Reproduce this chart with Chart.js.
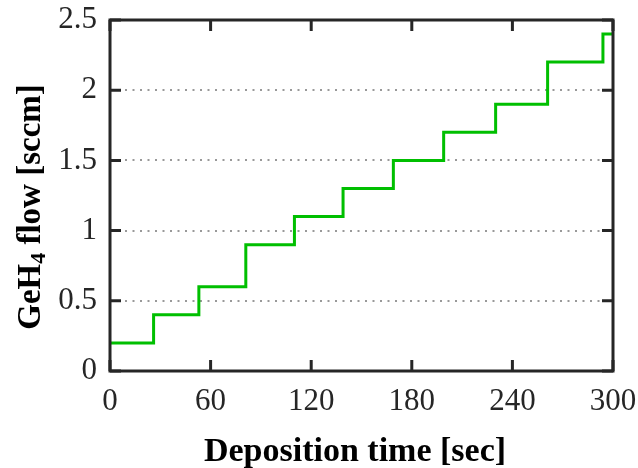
<!DOCTYPE html>
<html>
<head>
<meta charset="utf-8">
<script src="https://cdn.jsdelivr.net/npm/chart.js@4/dist/chart.umd.min.js"></script>
<style>
  html, body { margin: 0; padding: 0; background: #fff; }
  #wrap { width: 638px; height: 468px; }
</style>
</head>
<body>
<div id="wrap"><canvas id="flowChart"></canvas></div>
<script>
// step start times (sec) and GeH4 flow level (sccm) held from that time on
const stepTimes = [0, 26, 53, 81, 110, 139, 169, 199, 230, 261, 294, 300];
const flowLevels = [0.2, 0.4, 0.6, 0.9, 1.1, 1.3, 1.5, 1.7, 1.9, 2.2, 2.4, 2.4];
const xTicks = [0, 60, 120, 180, 240, 300];
const yTicks = [0, 0.5, 1, 1.5, 2, 2.5];
const xTitle = 'Deposition time [sec]';
const yTitleParts = ['GeH', '4', ' flow [sccm]'];

const FONT = '"Liberation Serif", "DejaVu Serif", serif';
const INK = '#262626';

const points = stepTimes.map((t, i) => ({ x: t, y: flowLevels[i] }));

// box round the plot, inward ticks on all sides, axis titles (y one has a subscript)
const framePlugin = {
    id: 'frame',
    afterDatasetsDraw(chart) {
        const { ctx, chartArea: a, scales: { x, y } } = chart;
        ctx.save();
        ctx.strokeStyle = INK;
        ctx.lineWidth = 3;
        ctx.strokeRect(a.left, a.top, a.right - a.left, a.bottom - a.top);
        ctx.beginPath();
        xTicks.forEach(v => {
            const px = x.getPixelForValue(v);
            ctx.moveTo(px, a.bottom); ctx.lineTo(px, a.bottom - 11);
            ctx.moveTo(px, a.top); ctx.lineTo(px, a.top + 11);
        });
        yTicks.forEach(v => {
            const py = y.getPixelForValue(v);
            ctx.moveTo(a.left, py); ctx.lineTo(a.left + 11, py);
            ctx.moveTo(a.right, py); ctx.lineTo(a.right - 11, py);
        });
        ctx.stroke();

        ctx.fillStyle = '#000';
        ctx.textBaseline = 'middle';

        // x axis title
        ctx.font = 'bold 34px ' + FONT;
        ctx.textAlign = 'center';
        ctx.fillText(xTitle, 355, 452);

        // y axis title
        const bigFont = 'bold 33px ' + FONT;
        const subFont = 'bold 22px ' + FONT;
        ctx.font = bigFont;
        const w0 = ctx.measureText(yTitleParts[0]).width;
        const w2 = ctx.measureText(yTitleParts[2]).width;
        ctx.font = subFont;
        const w1 = ctx.measureText(yTitleParts[1]).width;
        const total = w0 + w1 + w2;
        ctx.translate(31, 207);
        ctx.rotate(-Math.PI / 2);
        ctx.textAlign = 'left';
        let cx = -total / 2;
        ctx.font = bigFont;
        ctx.fillText(yTitleParts[0], cx, 0);
        cx += w0;
        ctx.font = subFont;
        ctx.fillText(yTitleParts[1], cx, 8);
        cx += w1;
        ctx.font = bigFont;
        ctx.fillText(yTitleParts[2], cx, 0);
        ctx.restore();
    }
};

const chartConfig = {
    type: 'line',
    data: {
        datasets: [{
            data: points,
            borderColor: '#00bf00',
            borderWidth: 3,
            stepped: 'before',
            pointRadius: 0,
            fill: false
        }]
    },
    options: {
        responsive: true,
        maintainAspectRatio: false,
        animation: false,
        layout: { padding: { left: 0, right: 25, top: 20, bottom: 0 } },
        plugins: {
            legend: { display: false },
            tooltip: { enabled: false }
        },
        scales: {
            x: {
                type: 'linear',
                min: 0,
                max: 300,
                afterBuildTicks: scale => { scale.ticks = xTicks.map(v => ({ value: v })); },
                afterFit: scale => {
                    scale.height = 97;
                    scale.paddingLeft = 0;
                    scale.paddingRight = 0;
                },
                grid: { display: false, drawTicks: false },
                border: { display: false },
                ticks: {
                    padding: 12,
                    color: INK,
                    font: { family: FONT, size: 31 },
                    maxRotation: 0
                }
            },
            y: {
                min: 0,
                max: 2.5,
                afterBuildTicks: scale => { scale.ticks = yTicks.map(v => ({ value: v })); },
                afterFit: scale => {
                    scale.width = 110;
                    scale.paddingTop = 0;
                    scale.paddingBottom = 0;
                },
                grid: {
                    drawTicks: false,
                    lineWidth: 2,
                    color: c => (c.tick && c.tick.value > 0 && c.tick.value < 2.5) ? '#999999' : 'rgba(0,0,0,0)'
                },
                border: { display: false, dash: [2, 5.5] },
                ticks: {
                    padding: 13,
                    color: INK,
                    font: { family: FONT, size: 31 },
                    callback: v => String(v)
                }
            }
        }
    },
    plugins: [framePlugin]
};

const flowChart = new Chart(document.getElementById('flowChart'), chartConfig);
</script>
</body>
</html>
